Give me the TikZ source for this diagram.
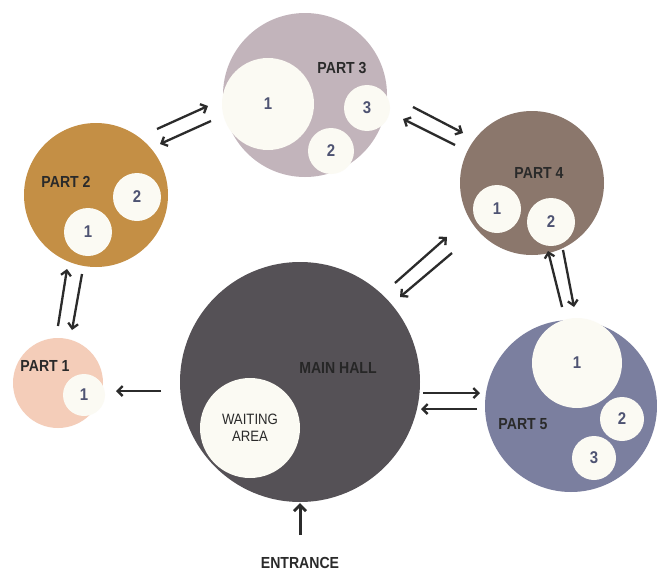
\documentclass[tikz,border=0pt]{standalone}
\usepackage{fontspec}
\setmainfont{Liberation Sans}
\newfontfamily\labfont[FakeStretch=0.88]{Liberation Sans}
\usetikzlibrary{arrows.meta}
\definecolor{cpthree}{HTML}{C2B4BB}
\definecolor{cptwo}{HTML}{C48F45}
\definecolor{cpfour}{HTML}{8B776C}
\definecolor{cmain}{HTML}{555156}
\definecolor{cpone}{HTML}{F4CDB9}
\definecolor{cpfive}{HTML}{7B7F9F}
\definecolor{cinner}{HTML}{FBFAF3}
\definecolor{cnum}{HTML}{4E5372}
\definecolor{ctext}{HTML}{2A2A2A}
\definecolor{carrow}{HTML}{2B2B2B}
\begin{document}
\begin{tikzpicture}[x=1pt,y=-1pt,
  room/.style={circle,inner sep=0pt,draw=none},
  sub/.style={circle,inner sep=0pt,fill=cinner,draw=none,text=cnum,
    font=\labfont\fontsize{17}{17}\selectfont\bfseries},
  lab/.style={text=ctext,font=\labfont\fontsize{16}{16}\selectfont\bfseries,inner sep=0pt},
  conn/.style={draw=carrow,line width=2.3pt,-{Straight Barb[length=5pt,width=10pt]}}]
\useasboundingbox (0,0) rectangle (657,573);
\fill[white] (0,0) rectangle (657,573);

% PART 3
\node[room,fill=cpthree,minimum size=164pt] (p3) at (305,95) {};
\node[sub,minimum size=92pt] (p3a) at (268,104) {1};
\node[sub,minimum size=46pt] (p3c) at (367,108) {3};
\node[sub,minimum size=46pt] (p3b) at (331,151) {2};
\node[lab] (p3l) at (342,68) {PART 3};

% PART 2
\node[room,fill=cptwo,minimum size=144pt] (p2) at (96,195) {};
\node[sub,minimum size=48pt] (p2b) at (137,197) {2};
\node[sub,minimum size=48pt] (p2a) at (88,232) {1};
\node[lab] (p2l) at (66,182) {PART 2};

% PART 4
\node[room,fill=cpfour,minimum size=144pt] (p4) at (532,183) {};
\node[sub,minimum size=48pt] (p4a) at (497,209) {1};
\node[sub,minimum size=48pt] (p4b) at (551,222) {2};
\node[lab] (p4l) at (539,173) {PART 4};

% MAIN HALL
\node[room,fill=cmain,minimum size=240pt] (mh) at (300,382) {};
\node[sub,minimum size=100pt,text=ctext,align=center,
  font=\labfont\fontsize{15}{17}\selectfont] (wa) at (250,428) {WAITING\\AREA};
\node[lab,text=black!85] (mhl) at (338,368) {MAIN HALL};

% PART 1
\node[room,fill=cpone,minimum size=90pt] (p1) at (58,383) {};
\node[sub,minimum size=42pt] (p1a) at (84,395) {1};
\node[lab] (p1l) at (45,366) {PART 1};

% PART 5
\node[room,fill=cpfive,minimum size=172pt] (p5) at (571,406) {};
\node[sub,minimum size=90pt] (p5a) at (577,363) {1};
\node[sub,minimum size=44pt] (p5b) at (622,419) {2};
\node[sub,minimum size=44pt] (p5c) at (594,458) {3};
\node[lab] (p5l) at (523,424) {PART 5};

% ENTRANCE
\node[text=ctext,font=\labfont\fontsize{16}{16}\selectfont\bfseries] (ent) at (300,563) {ENTRANCE};

% arrow end coordinates
\coordinate (a1s) at (157,129); \coordinate (a1e) at (208,106);
\coordinate (a2s) at (211,121); \coordinate (a2e) at (160,144);
\coordinate (b1s) at (413,107); \coordinate (b1e) at (463,133);
\coordinate (b2s) at (455,145); \coordinate (b2e) at (403,119);
\coordinate (c1s) at (58,326); \coordinate (c1e) at (67,269);
\coordinate (c2s) at (82,274); \coordinate (c2e) at (72,330);
\coordinate (d1s) at (395,283); \coordinate (d1e) at (447,237);
\coordinate (d2s) at (452,253); \coordinate (d2e) at (400,297);
\coordinate (e1s) at (562,307); \coordinate (e1e) at (548,251);
\coordinate (e2s) at (563,250); \coordinate (e2e) at (574,307);
\coordinate (f1s) at (423,393); \coordinate (f1e) at (480,393);
\coordinate (f2s) at (477,409); \coordinate (f2e) at (421,409);
\coordinate (g1s) at (161,391); \coordinate (g1e) at (116,391);
\coordinate (h1s) at (300,535); \coordinate (h1e) at (300,503);

\draw[conn] (a1s) -- (a1e);
\draw[conn] (a2s) -- (a2e);
\draw[conn] (b1s) -- (b1e);
\draw[conn] (b2s) -- (b2e);
\draw[conn] (c1s) -- (c1e);
\draw[conn] (c2s) -- (c2e);
\draw[conn] (d1s) -- (d1e);
\draw[conn] (d2s) -- (d2e);
\draw[conn] (e1s) -- (e1e);
\draw[conn] (e2s) -- (e2e);
\draw[conn] (f1s) -- (f1e);
\draw[conn] (f2s) -- (f2e);
\draw[conn] (g1s) -- (g1e);
\draw[conn,line width=3pt,-{Straight Barb[length=6pt,width=12pt]}] (h1s) -- (h1e);
\end{tikzpicture}
\end{document}
